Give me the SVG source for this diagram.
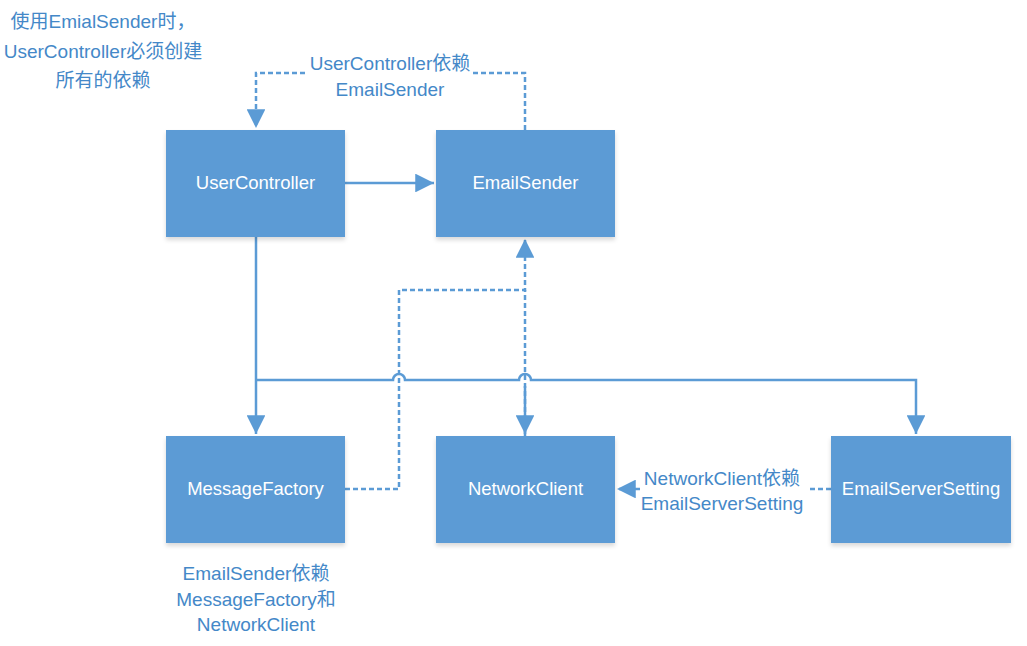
<svg xmlns="http://www.w3.org/2000/svg" width="1027" height="646" viewBox="0 0 1027 646">
<style>
.box{fill:#5b9bd5;}
.nt{fill:#fff;font-family:"Liberation Sans","Noto Sans CJK SC",sans-serif;font-size:18.5px;text-anchor:middle;}
.lb{fill:#4488c8;font-family:"Liberation Sans","Noto Sans CJK SC",sans-serif;font-size:19px;text-anchor:middle;}
.ln{fill:none;stroke:#5b9bd5;stroke-width:2.5;}
.dash{stroke-dasharray:5,3;}
</style>
<defs>
<marker id="ar" viewBox="0 0 10 10" refX="10" refY="5" markerWidth="7.5" markerHeight="7.5" markerUnits="strokeWidth" orient="auto">
<path d="M0,0 L10,5 L0,10 z" fill="#5b9bd5"/>
</marker>
<filter id="sh" x="-10%" y="-10%" width="120%" height="130%">
<feDropShadow dx="0" dy="3" stdDeviation="2" flood-color="#000" flood-opacity="0.15"/>
</filter>
</defs>
<g id="connectors">
<path class="ln" d="M345,183 H434" marker-end="url(#ar)"/>
<path class="ln" d="M256,237 V434" marker-end="url(#ar)"/>
<path class="ln" d="M256,380 H393 A6,6 0 0 1 405,380 H519 A6,6 0 0 1 531,380 H916 V434" marker-end="url(#ar)"/>
<path class="ln" d="M525,386 V434" marker-end="url(#ar)"/>
<path class="ln dash" d="M525,130 V73 H472"/>
<path class="ln dash" d="M305,73 H256 V128" marker-end="url(#ar)"/>
<path class="ln dash" d="M345,489 H399 V290 H525 V239" marker-end="url(#ar)"/>
<path class="ln dash" d="M525,436 V290"/>
<path class="ln dash" d="M831,489 H807"/>
<path class="ln dash" d="M640,489 H617" marker-end="url(#ar)"/>
</g>
<g id="UserController"><rect class="box" x="166" y="130" width="179" height="107" filter="url(#sh)"/><text class="nt" x="255.5" y="189">UserController</text></g>
<g id="EmailSender"><rect class="box" x="436" y="130" width="179" height="107" filter="url(#sh)"/><text class="nt" x="525.5" y="189">EmailSender</text></g>
<g id="MessageFactory"><rect class="box" x="166" y="436" width="179" height="107" filter="url(#sh)"/><text class="nt" x="255.5" y="495">MessageFactory</text></g>
<g id="NetworkClient"><rect class="box" x="436" y="436" width="179" height="107" filter="url(#sh)"/><text class="nt" x="525.5" y="495">NetworkClient</text></g>
<g id="EmailServerSetting"><rect class="box" x="831" y="436" width="180" height="107" filter="url(#sh)"/><text class="nt" x="921" y="495">EmailServerSetting</text></g>
<g id="labels">
<text class="lb" x="103" y="28">使用EmialSender时，</text>
<text class="lb" x="103" y="58">UserController必须创建</text>
<text class="lb" x="103" y="87">所有的依赖</text>
<text class="lb" x="390" y="70">UserController依赖</text>
<text class="lb" x="390" y="96">EmailSender</text>
<text class="lb" x="722" y="485">NetworkClient依赖</text>
<text class="lb" x="722" y="510">EmailServerSetting</text>
<text class="lb" x="256" y="580">EmailSender依赖</text>
<text class="lb" x="256" y="606">MessageFactory和</text>
<text class="lb" x="256" y="631">NetworkClient</text>
</g>
</svg>
